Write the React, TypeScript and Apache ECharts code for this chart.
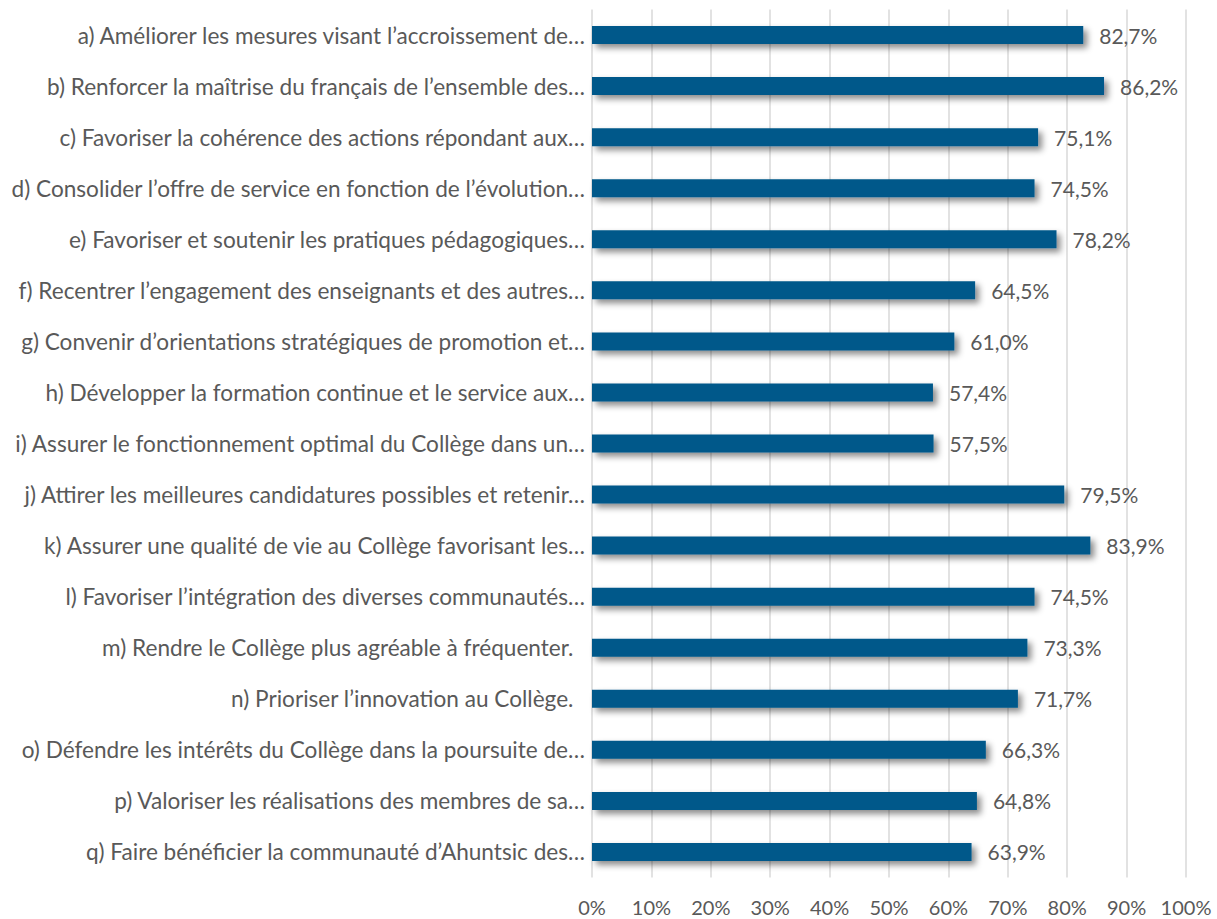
import React, { useEffect, useRef } from "react";
import * as echarts from "echarts";

const categories = [
  "a) Améliorer les mesures visant l’accroissement de…",
  "b) Renforcer la maîtrise du français de l’ensemble des…",
  "c) Favoriser la cohérence des actions répondant aux…",
  "d) Consolider l’offre de service en fonction de l’évolution…",
  "e) Favoriser et soutenir les pratiques pédagogiques…",
  "f) Recentrer l’engagement des enseignants et des autres…",
  "g) Convenir d’orientations stratégiques de promotion et…",
  "h) Développer la formation continue et le service aux…",
  "i) Assurer le fonctionnement optimal du Collège dans un…",
  "j) Attirer les meilleures candidatures possibles et retenir…",
  "k) Assurer une qualité de vie au Collège favorisant les…",
  "l) Favoriser l’intégration des diverses communautés…",
  "m) Rendre le Collège plus agréable à fréquenter.  ",
  "n) Prioriser l’innovation au Collège.  ",
  "o) Défendre les intérêts du Collège dans la poursuite de…",
  "p) Valoriser les réalisations des membres de sa…",
  "q) Faire bénéficier la communauté d’Ahuntsic des…",
];

const values = [82.7, 86.2, 75.1, 74.5, 78.2, 64.5, 61.0, 57.4, 57.5, 79.5, 83.9, 74.5, 73.3, 71.7, 66.3, 64.8, 63.9];

const FONT = "Lato, 'Open Sans', sans-serif";
const TEXT = "#595959";

export default function App() {
  const ref = useRef<HTMLDivElement>(null);
  useEffect(() => {
    const chart = echarts.init(ref.current!, null, { renderer: "svg" });
    chart.setOption({
      animation: false,
      backgroundColor: "#ffffff",
      grid: { left: 592, right: 31, top: 9.5, bottom: 41.5, containLabel: false },
      xAxis: {
        type: "value",
        min: 0,
        max: 100,
        interval: 10,
        axisLine: { show: false },
        axisTick: { show: false },
        splitLine: { show: true, lineStyle: { color: "#d9d9d9", width: 1.5 } },
        axisLabel: {
          formatter: (v: number) => v + "%",
          color: TEXT,
          fontFamily: FONT,
          fontSize: 20,
          margin: 19,
        },
      },
      yAxis: {
        type: "category",
        inverse: true,
        data: categories,
        axisLine: { show: false },
        axisTick: { show: false },
        axisLabel: {
          color: TEXT,
          fontFamily: FONT,
          fontSize: 22.6,
          margin: 7,
        },
      },
      series: [
        {
          type: "bar",
          data: values,
          barWidth: 18,
          itemStyle: {
            color: "#02588A",
            shadowColor: "rgba(0,0,0,0.45)",
            shadowBlur: 6,
            shadowOffsetX: 4,
            shadowOffsetY: 4,
          },
          label: {
            show: true,
            position: "right",
            distance: 16,
            formatter: (p: any) => p.value.toFixed(1).replace(".", ",") + "%",
            color: TEXT,
            fontFamily: FONT,
            fontSize: 21,
          },
        },
      ],
    });
    return () => chart.dispose();
  }, []);
  return (
    <div
      ref={ref}
      style={{ position: "fixed", left: 0, top: 0, width: 1217, height: 919, background: "#fff" }}
    />
  );
}
